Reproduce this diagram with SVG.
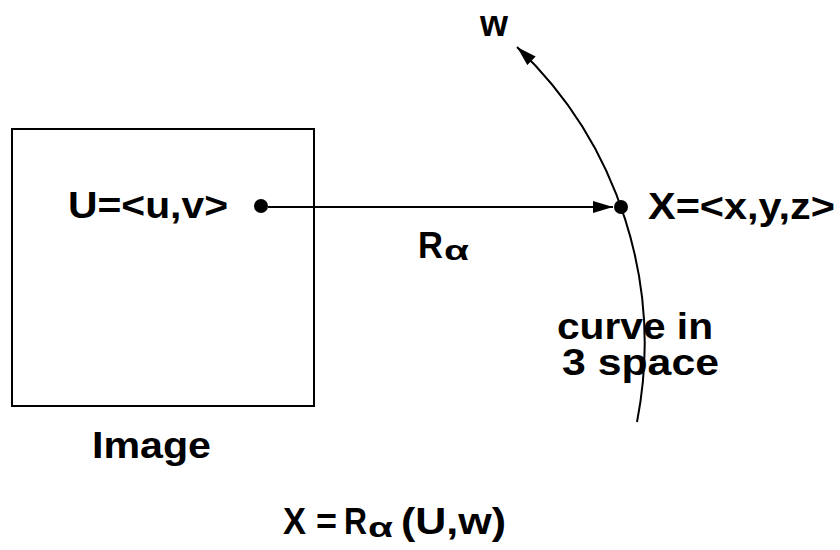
<svg xmlns="http://www.w3.org/2000/svg" width="840" height="550" viewBox="0 0 840 550">
<style>
text{font-family:"Liberation Sans",Arial,sans-serif;font-weight:bold;font-size:37px;fill:#000}
.sub{font-size:28px}
.ln{fill:none;stroke:#000;stroke-width:2}
</style>
<defs>
<marker id="ah" markerWidth="20" markerHeight="12" refX="20" refY="6" orient="auto" markerUnits="userSpaceOnUse">
<path d="M0,0 L20,6 L0,12 z" fill="#000"/>
</marker>
</defs>
<rect width="840" height="550" fill="#fff"/>
<g id="image">
<rect x="12" y="129" width="302" height="277" class="ln"/>
<text x="92" y="458" textLength="119" lengthAdjust="spacingAndGlyphs">Image</text>
</g>
<g id="pointU">
<circle cx="261" cy="206" r="7" fill="#000"/>
<text x="68" y="218" textLength="160" lengthAdjust="spacingAndGlyphs">U=&lt;u,v&gt;</text>
</g>
<g id="pointX">
<circle cx="621" cy="207" r="7" fill="#000"/>
<text x="648" y="219" textLength="187" lengthAdjust="spacingAndGlyphs">X=&lt;x,y,z&gt;</text>
</g>
<g id="curve">
<text x="480" y="36" textLength="28" lengthAdjust="spacingAndGlyphs">w</text>
<text x="557" y="339" textLength="156" lengthAdjust="spacingAndGlyphs">curve in</text>
<text x="562" y="375" textLength="157" lengthAdjust="spacingAndGlyphs">3 space</text>
</g>
<g id="connectors">
<line x1="268" y1="207" x2="613" y2="207" class="ln" marker-end="url(#ah)"/>
<path d="M637,422 A409,409 0 0,0 517,47" class="ln" marker-end="url(#ah)"/>
<text x="418" y="258" textLength="25" lengthAdjust="spacingAndGlyphs">R</text>
<text x="444" y="260" class="sub" textLength="25" lengthAdjust="spacingAndGlyphs">α</text>
</g>
<g id="formula">
<text x="283" y="534" textLength="23" lengthAdjust="spacingAndGlyphs">X</text>
<text x="316" y="534" textLength="21" lengthAdjust="spacingAndGlyphs">=</text>
<text x="344" y="534" textLength="23" lengthAdjust="spacingAndGlyphs">R</text>
<text x="368" y="537" class="sub" textLength="25" lengthAdjust="spacingAndGlyphs">α</text>
<text x="401" y="534" textLength="105" lengthAdjust="spacingAndGlyphs">(U,w)</text>
</g>
</svg>
